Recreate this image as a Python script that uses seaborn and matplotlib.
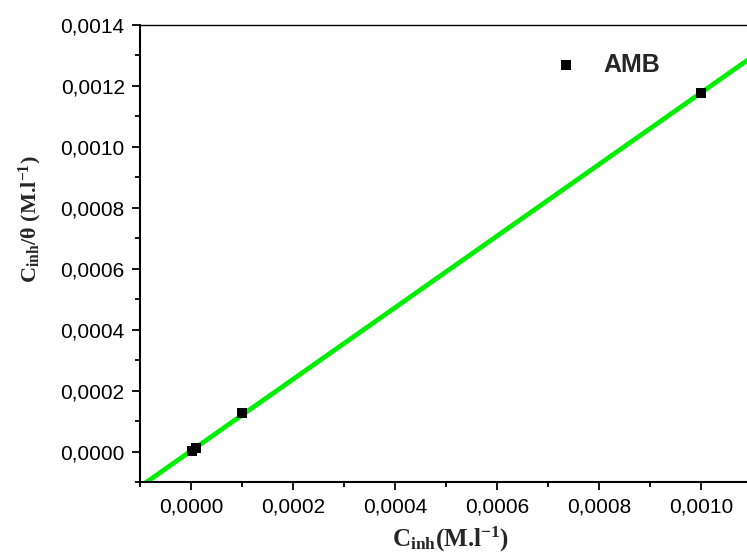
import numpy as np
import matplotlib
matplotlib.use("Agg")
import matplotlib.pyplot as plt
from matplotlib.ticker import MultipleLocator, FuncFormatter
import seaborn as sns

# data
c_inh = [0.000001, 0.00001, 0.0001, 0.001]
c_over_theta = [0.0000012, 0.0000110, 0.000125, 0.001177]
series_name = "AMB"
x_ticks = [0.0, 0.0002, 0.0004, 0.0006, 0.0008, 0.0010]
y_ticks = [0.0, 0.0002, 0.0004, 0.0006, 0.0008, 0.0010, 0.0012, 0.0014]

sns.set_style("ticks")
plt.rcParams["font.family"] = ["Liberation Sans", "DejaVu Sans"]
plt.rcParams["mathtext.fontset"] = "custom"
plt.rcParams["mathtext.rm"] = "Liberation Serif:bold"
plt.rcParams["mathtext.bf"] = "Liberation Serif:bold"
plt.rcParams["mathtext.it"] = "Liberation Serif:bold"

fig = plt.figure(figsize=(7.47, 5.53), dpi=100)
ax = fig.add_axes([140 / 747, 71 / 553, 612 / 747, 457 / 553])

xlim = (-0.0001, 0.0011)
ylim = (-0.0001, 0.0014)

# linear fit through the points
slope, intercept = np.polyfit(c_inh, c_over_theta, 1)
xf = np.array(xlim)
ax.plot(xf, slope * xf + intercept, color="#00ee00", lw=3.4, zorder=2)

sns.scatterplot(x=c_inh, y=c_over_theta, marker="s", s=45, color="black",
                edgecolor="black", linewidth=0, ax=ax, zorder=3, legend=False)

ax.set_xlim(*xlim)
ax.set_ylim(*ylim)

fmt = FuncFormatter(lambda v, p: f"{abs(v):.4f}".replace(".", ","))
ax.set_xticks(x_ticks)
ax.set_yticks(y_ticks)
ax.xaxis.set_minor_locator(MultipleLocator(0.0001))
ax.yaxis.set_minor_locator(MultipleLocator(0.0001))
ax.xaxis.set_major_formatter(fmt)
ax.yaxis.set_major_formatter(fmt)
ax.tick_params(which="major", direction="out", length=6, width=1.3, labelsize=15,
               colors="black", pad=5)
ax.tick_params(which="minor", direction="out", length=3.5, width=1.3, colors="black")
ax.tick_params(top=False, right=False)

for side in ["left", "bottom", "top", "right"]:
    ax.spines[side].set_linewidth(1.5)
    ax.spines[side].set_color("black")
ax.spines["top"].set_linewidth(1.0)

# legend
ax.scatter([0.000735], [0.00127], marker="s", s=45, color="black", linewidth=0)
ax.text(0.000808, 0.00127, series_name, fontsize=18, fontweight="bold",
        va="center", ha="left")

serif = dict(family="Liberation Serif", fontweight="bold")
fig.text(451 / 747, 1 - 547 / 553, r"C$_{\mathbf{inh}}$(M.l$^{\mathbf{-1}}$)", fontsize=18,
         ha="center", va="baseline", **serif)
fig.text(30 / 747, 1 - 219 / 553, r"C$_{\mathbf{inh}}$/θ (M.l$^{\mathbf{-1}}$)", fontsize=16,
         ha="center", va="center", rotation=90, **serif)

fig.savefig("out.png", dpi=100)
